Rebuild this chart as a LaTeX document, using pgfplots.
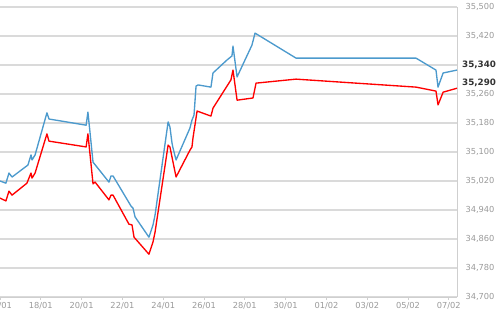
\documentclass[border=0pt]{standalone}
\usepackage{pgfplots}
\pgfplotsset{compat=1.18}
\usepackage{fontspec}
\setmainfont{DejaVu Sans}
\definecolor{lblue}{HTML}{4C9ACD}
\definecolor{lred}{HTML}{FF0000}
\definecolor{gridc}{HTML}{DADADA}
\definecolor{tickc}{HTML}{9A9A9A}
\definecolor{axc}{HTML}{CFCFCF}
\begin{document}
\begin{tikzpicture}
\path[use as bounding box] (0,0) rectangle (500bp,312bp);
\begin{axis}[
  at={(0,15bp)}, anchor=south west,
  scale only axis, width=457bp, height=290bp,
  xmin=0, xmax=22.4, ymin=34700, ymax=35500,
  axis x line*=bottom, axis y line*=right,
  axis line style={draw=axc, line width=1pt},
  ytick={34700,34780,...,35500},
  yticklabels={34{,}700,34{,}780,34{,}860,34{,}940,35{,}020,35{,}100,35{,}180,35{,}260,,35{,}420,35{,}500},
  ymajorgrids, grid style={draw=gridc, line width=1.1pt},
  xtick={0,2,...,22},
  xticklabels={16/01,18/01,20/01,22/01,24/01,26/01,28/01,30/01,01/02,03/02,05/02,07/02},
  tick style={draw=axc, line width=0.8pt},
  major tick length=3bp,
  xtick align=outside, ytick style={draw=none},
  ticklabel style={font=\fontsize{8.3}{10}\selectfont, text=tickc},
  yticklabel style={anchor=west, xshift=5bp, inner ysep=0.5bp},
  xticklabel style={yshift=1bp},
  /pgf/number format/assume math mode=true,
  clip=false,
]
\addplot[color=lblue, line width=1.35pt, line join=round] coordinates {
(0,35020) (0.29,35014) (0.44,35042) (0.59,35031) (1.37,35064) (1.52,35092) (1.57,35078) (1.72,35092)
(2.30,35208) (2.40,35191) (4.22,35174) (4.31,35210) (4.56,35072) (5.34,35017) (5.44,35034) (5.54,35034)
(6.42,34951) (6.52,34945) (6.62,34921) (7.30,34865) (7.50,34899) (7.60,34926) (8.24,35183) (8.33,35169)
(8.43,35125) (8.48,35111) (8.63,35078) (9.31,35166) (9.41,35188) (9.51,35202) (9.61,35282) (9.71,35285)
(10.34,35279) (10.44,35318) (11.13,35354) (11.37,35365) (11.42,35392) (11.62,35307) (12.35,35395)
(12.50,35428) (14.51,35359) (20.39,35359) (21.37,35326) (21.47,35279) (21.72,35318) (22.40,35326)
};
\addplot[color=lred, line width=1.35pt, line join=round] coordinates {
(0,34973) (0.29,34965) (0.44,34992) (0.59,34981) (1.32,35014) (1.52,35042) (1.57,35028) (1.72,35042)
(2.30,35150) (2.40,35130) (4.22,35114) (4.31,35150) (4.56,35012) (4.66,35017) (5.34,34968) (5.44,34981)
(5.54,34981) (6.32,34901) (6.47,34899) (6.57,34865) (7.30,34818) (7.50,34852) (7.60,34879) (8.24,35119)
(8.33,35114) (8.43,35086) (8.63,35031) (9.31,35105) (9.41,35114) (9.46,35139) (9.66,35213) (10.34,35199)
(10.44,35221) (11.32,35299) (11.42,35326) (11.62,35243) (12.40,35249) (12.55,35290) (14.51,35301)
(20.39,35279) (21.37,35268) (21.47,35230) (21.72,35265) (22.40,35276)
};
\node[anchor=west, xshift=4bp, fill=white, inner xsep=1bp, inner ysep=1bp, text=black!80, font=\fontsize{8.8}{10}\selectfont\bfseries] at (axis cs:22.4,35340) {35,340};
\node[anchor=west, xshift=4bp, fill=white, inner xsep=1bp, inner ysep=0.5bp, text=black!80, font=\fontsize{8.8}{10}\selectfont\bfseries] at (axis cs:22.4,35290) {35,290};
\end{axis}
\end{tikzpicture}
\end{document}
